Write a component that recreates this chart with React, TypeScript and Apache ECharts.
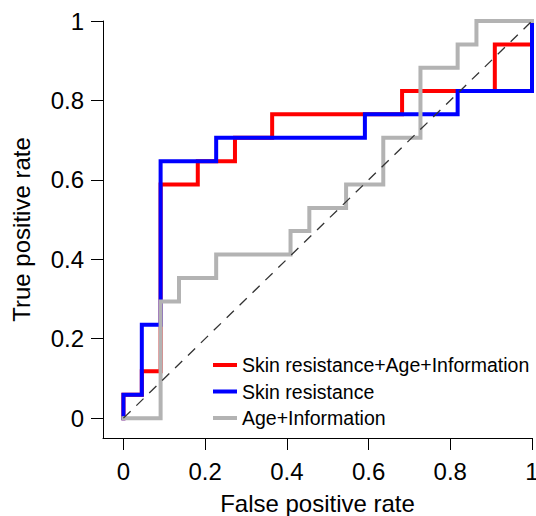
import React, { useEffect, useRef } from "react";
import * as echarts from "echarts";

// ROC curves: false positive rate (x) and true positive rate (y) at each corner
const fullFpr = [0, 0, 0.045, 0.045, 0.091, 0.091, 0.182, 0.182, 0.273, 0.273, 0.364, 0.364, 0.682, 0.682, 0.909, 0.909, 1, 1];
const fullTpr = [0, 0.059, 0.059, 0.118, 0.118, 0.588, 0.588, 0.647, 0.647, 0.706, 0.706, 0.765, 0.765, 0.824, 0.824, 0.941, 0.941, 1];

const skinFpr = [0, 0, 0.045, 0.045, 0.091, 0.091, 0.227, 0.227, 0.591, 0.591, 0.818, 0.818, 1, 1];
const skinTpr = [0, 0.059, 0.059, 0.235, 0.235, 0.647, 0.647, 0.706, 0.706, 0.765, 0.765, 0.824, 0.824, 1];

const ageFpr = [0, 0.091, 0.091, 0.136, 0.136, 0.227, 0.227, 0.409, 0.409, 0.455, 0.455, 0.545, 0.545, 0.636, 0.636, 0.727, 0.727, 0.818, 0.818, 0.864, 0.864, 1];
const ageTpr = [0, 0, 0.294, 0.294, 0.353, 0.353, 0.412, 0.412, 0.471, 0.471, 0.529, 0.529, 0.588, 0.588, 0.706, 0.706, 0.882, 0.882, 0.941, 0.941, 1, 1];

const diagX = [0, 1];
const diagY = [0, 1];

const seriesNames = ["Skin resistance+Age+Information", "Skin resistance", "Age+Information"];
const seriesColors = ["#ff0000", "#0000ff", "#b3b3b3"];

const tickValues = [0, 0.2, 0.4, 0.6, 0.8, 1];
const xTitle = "False positive rate";
const yTitle = "True positive rate";

const zip = (xs: number[], ys: number[]) => xs.map((x, i) => [x, ys[i]]);

const FONT = "'Liberation Sans', Arial, sans-serif";

export default function App() {
  const ref = useRef<HTMLDivElement>(null);
  useEffect(() => {
    if (!ref.current) return;
    const chart = echarts.init(ref.current, undefined, { renderer: "svg" });
    const curves = [
      zip(fullFpr, fullTpr),
      zip(skinFpr, skinTpr),
      zip(ageFpr, ageTpr),
    ];
    const axisCommon = {
      type: "value" as const,
      min: -0.05,
      max: 1,
      splitLine: { show: false },
      axisLine: { show: true, onZero: false, lineStyle: { color: "#000", width: 1 } },
      axisTick: { show: true, inside: false, length: 12, customValues: tickValues, lineStyle: { color: "#000", width: 1 } },
      nameLocation: "middle" as const,
      nameTextStyle: { fontSize: 24, color: "#000", fontFamily: FONT },
    };
    chart.setOption({
      animation: false,
      backgroundColor: "#fff",
      textStyle: { fontFamily: FONT },
      grid: { left: 103, top: 21, right: 4, bottom: 78, containLabel: false, outerBoundsMode: "none" },
      xAxis: {
        ...axisCommon,
        name: xTitle,
        nameGap: 53,
        axisLabel: { customValues: tickValues, fontSize: 24, color: "#000", margin: 21, fontFamily: FONT },
      },
      yAxis: {
        ...axisCommon,
        name: yTitle,
        nameGap: 70,
        nameRotate: 90,
        axisLabel: { customValues: tickValues, fontSize: 24, color: "#000", margin: 19, fontFamily: FONT },
      },
      legend: {
        orient: "vertical",
        left: 213,
        top: 355,
        padding: 0,
        itemWidth: 24,
        itemHeight: 4,
        itemGap: 6.5,
        icon: "rect",
        data: seriesNames,
        textStyle: { fontSize: 19.5, color: "#000", fontFamily: FONT, lineHeight: 20 },
      },
      series: [
        ...curves.map((d, i) => ({
          name: seriesNames[i],
          type: "line",
          data: d,
          showSymbol: false,
          symbol: "none",
          clip: false,
          color: seriesColors[i],
          lineStyle: { color: seriesColors[i], width: 4, join: "miter", cap: "square" },
          emphasis: { disabled: true },
        })),
        {
          name: "diagonal",
          type: "line",
          data: zip(diagX, diagY),
          showSymbol: false,
          symbol: "none",
          clip: false,
          lineStyle: { color: "#333", width: 1.3, type: [10, 8] },
          emphasis: { disabled: true },
        },
      ],
    });
    return () => chart.dispose();
  }, []);
  return (
    <div
      ref={ref}
      style={{ position: "fixed", left: 0, top: 0, width: 536, height: 516, background: "#fff" }}
    />
  );
}
